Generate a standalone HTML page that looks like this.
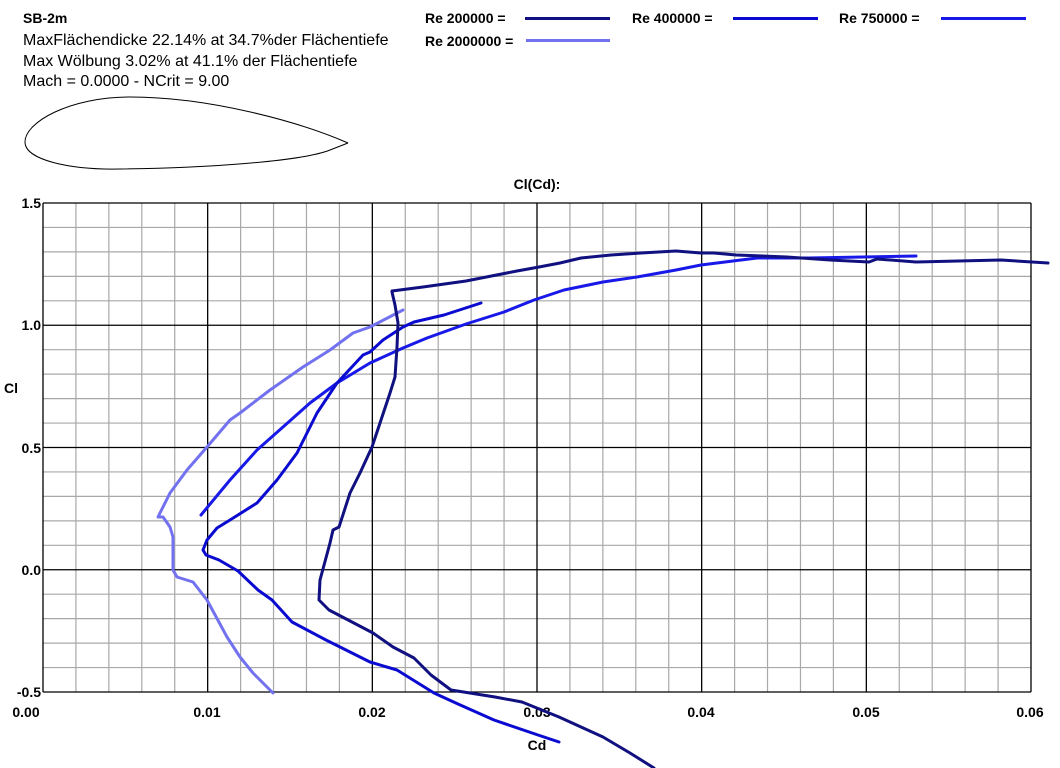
<!DOCTYPE html>
<html><head><meta charset="utf-8"><style>
html,body{margin:0;padding:0;background:#fff;}
svg{display:block;font-family:"Liberation Sans",Arial,sans-serif;}
</style></head><body>
<svg width="1060" height="768" viewBox="0 0 1060 768" xmlns="http://www.w3.org/2000/svg">
<rect width="1060" height="768" fill="#fff"/>
<text x="23" y="23" font-size="14" font-weight="bold">SB-2m</text>
<text x="23" y="45" font-size="16">MaxFlächendicke 22.14% at 34.7%der Flächentiefe</text>
<text x="23" y="66" font-size="16">Max Wölbung 3.02% at 41.1% der Flächentiefe</text>
<text x="23" y="86" font-size="16">Mach = 0.0000 - NCrit = 9.00</text>
<path d="M348,143 C300,122 210,97 130,97 C70,97 25,122 25,142 C25,160 70,170 120,169 C200,168 300,162 330,150 L348,143" fill="none" stroke="#000" stroke-width="1"/>
<g font-size="14" font-weight="bold">
<text x="425" y="23">Re 200000 =</text>
<text x="632" y="23">Re 400000 =</text>
<text x="839" y="23">Re 750000 =</text>
<text x="425" y="46">Re 2000000 =</text>
</g>
<line x1="525" y1="18.5" x2="610" y2="18.5" stroke="#101080" stroke-width="3"/>
<line x1="733" y1="18.5" x2="818" y2="18.5" stroke="#0a0ad0" stroke-width="3"/>
<line x1="941" y1="18.5" x2="1026" y2="18.5" stroke="#1818e8" stroke-width="3"/>
<line x1="526" y1="40.5" x2="610" y2="40.5" stroke="#7272f0" stroke-width="3"/>
<text x="537" y="189" font-size="14" font-weight="bold" text-anchor="middle">Cl(Cd):</text>
<g id="grid"></g>
<script>
(function(){
var ns="http://www.w3.org/2000/svg",g=document.getElementById('grid');
function L(x1,y1,x2,y2,c,w){var l=document.createElementNS(ns,'line');l.setAttribute('x1',x1);l.setAttribute('y1',y1);l.setAttribute('x2',x2);l.setAttribute('y2',y2);l.setAttribute('stroke',c);l.setAttribute('stroke-width',w);g.appendChild(l);}
var x0=43,x1=1031,y0=203,y1=692;
for(var i=0;i<=30;i++){var x=x0+(x1-x0)*i/30;if(i%5)L(x,y0,x,y1,'#a8a8a8',1.2);}
for(var j=0;j<=20;j++){var y=y0+(y1-y0)*j/20;if(j%5)L(x0,y,x1,y,'#a8a8a8',1.2);}
for(var i=0;i<=6;i++){var x=x0+(x1-x0)*i/6;L(x,y0,x,y1,'#000',1.3);}
for(var j=0;j<=4;j++){var y=y0+(y1-y0)*j/4;L(x0,y,x1,y,'#000',1.3);}
})();
</script>
<g font-size="14" font-weight="bold" text-anchor="end">
<text x="41" y="208">1.5</text>
<text x="41" y="330">1.0</text>
<text x="41" y="453">0.5</text>
<text x="41" y="575">0.0</text>
<text x="41" y="697">-0.5</text>
</g>
<g font-size="14" font-weight="bold" text-anchor="middle">
<text x="26" y="717">0.00</text>
<text x="207" y="717">0.01</text>
<text x="372" y="717">0.02</text>
<text x="537" y="717">0.03</text>
<text x="701" y="717">0.04</text>
<text x="866" y="717">0.05</text>
<text x="1030" y="717">0.06</text>
<text x="537" y="750">Cd</text>
</g>
<text x="4" y="393" font-size="14" font-weight="bold">Cl</text>
<g fill="none" stroke-width="3" stroke-linejoin="round" stroke-linecap="round">
<polyline stroke="#7272f0" points="403,310 370,327 353,333 330,350 303,367 270,390 240,413 230,420 207,447 187,470 170,493 158,517 163,517 170,527 173,537 173,570 177,577 193,582 207,600 227,637 240,657 253,673 273,693"/>
<polyline stroke="#1818e8" points="201,515 230,480 257,450 283,427 310,403 337,383 370,363 403,348 427,338 466,324 504,312 534,300 564,290 603,282 637,277 676,270 701,265 757,258 809,258 916,256"/>
<polyline stroke="#0a0ad0" points="481,303 444,315 414,322 403,327 383,340 370,352 363,355 337,383 317,413 297,453 277,480 257,503 230,520 217,528 207,540 203,550 206,555 219,560 238,571 258,590 272,600 292,622 326,640 370,662 397,670 434,693 458,704 494,720 538,735 559,742"/>
<polyline stroke="#101080" points="1048,263 1001,260 916,262 877,259 869,262 830,260 787,257 736,255 714,253 701,253 676,251 641,253 611,255 581,258 560,263 539,267 517,271 466,281 423,287 392,291 392,292 395,305 398,323 397,347 395,377 390,393 380,423 372,447 360,473 350,493 339,527 333,530 330,543 320,580 319,600 329,610 373,633 393,647 414,658 431,675 451,690 495,697 522,702 559,717 603,737 630,753 654,768"/>
</g>
</svg>
</body></html>
